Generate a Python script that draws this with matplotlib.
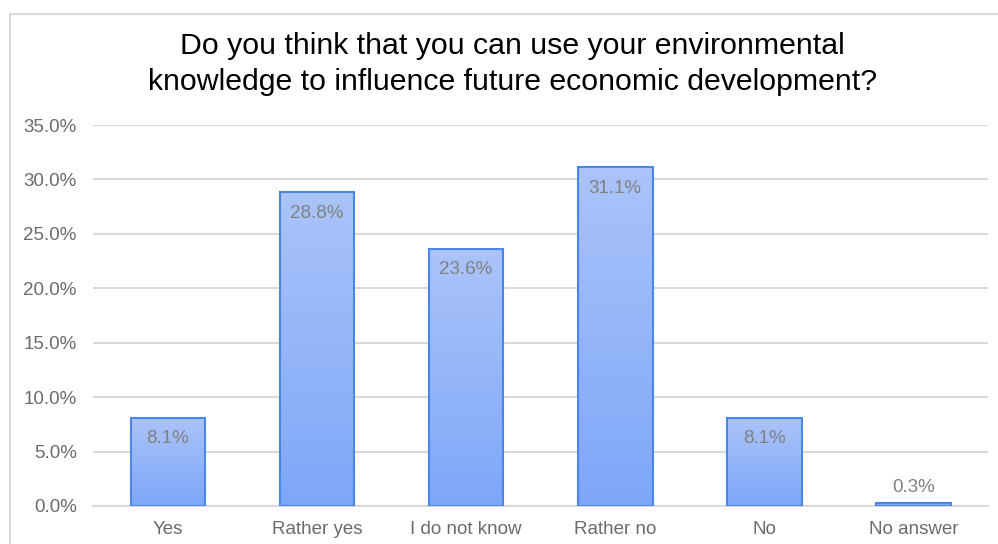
import numpy as np
import matplotlib.pyplot as plt
from matplotlib.patches import Rectangle

plt.rcParams['font.family'] = ['Liberation Sans', 'DejaVu Sans']

# survey answers
categories = ['Yes', 'Rather yes', 'I do not know', 'Rather no', 'No', 'No answer']
shares = [8.1, 28.8, 23.6, 31.1, 8.1, 0.3]
yticks = [0, 5, 10, 15, 20, 25, 30, 35]

title = 'Do you think that you can use your environmental\nknowledge to influence future economic development?'

fig = plt.figure(figsize=(9.98, 5.44), dpi=100)
ax = fig.add_axes([0.0935, 0.0699, 0.8965, 0.7003])

# outer frame of the chart box
fig.patches.append(Rectangle((10 / 998, -0.1), 1.2, 1 - 14 / 544 + 0.1, transform=fig.transFigure,
                             fill=False, edgecolor='#d9d9d9', linewidth=1.5, zorder=0))

x = np.arange(len(categories))
bars = ax.bar(x, shares, width=0.5, color='none', edgecolor='#4a86e8', linewidth=1.5, zorder=3)

# gradient fill, lighter on top
grad = np.linspace(0, 1, 256).reshape(-1, 1)
cmap = plt.matplotlib.colors.LinearSegmentedColormap.from_list('g', ['#7ea6f8', '#abc4fa'])
for b in bars:
    im = ax.imshow(grad, cmap=cmap, origin='lower', aspect='auto', zorder=2,
                   extent=[b.get_x(), b.get_x() + b.get_width(), 0, b.get_height()])
    im.set_clip_path(b)

for xi, v in zip(x, shares):
    if v > 3:
        ax.annotate(f'{v:.1f}%', (xi, v), xytext=(0, -15), textcoords='offset points',
                    ha='center', va='center', fontsize=13.5, color='#808080', zorder=4)
    else:
        ax.annotate(f'{v:.1f}%', (xi, v), xytext=(0, 11), textcoords='offset points',
                    ha='center', va='center', fontsize=13.5, color='#808080', zorder=4)

ax.set_xlim(-0.5, 5.5)
ax.set_ylim(0, 35)
ax.set_yticks(yticks)
ax.set_yticklabels([f'{t:.1f}%' for t in yticks])
ax.set_xticks(x)
ax.set_xticklabels(categories)
ax.tick_params(axis='both', length=0, labelsize=13.5, labelcolor='#6b6b6b')
ax.tick_params(axis='y', pad=12)
ax.tick_params(axis='x', pad=11)
ax.grid(axis='y', color='#d9d9d9', linewidth=1.5, zorder=0)
ax.set_axisbelow(True)
for s in ['top', 'right', 'left']:
    ax.spines[s].set_visible(False)
ax.spines['bottom'].set_color('#d9d9d9')
ax.spines['bottom'].set_linewidth(1.5)

fig.text(0.5135, 0.882, title, ha='center', va='center', fontsize=21.8, color='black', linespacing=1.35)

fig.savefig('out.png', dpi=100)
